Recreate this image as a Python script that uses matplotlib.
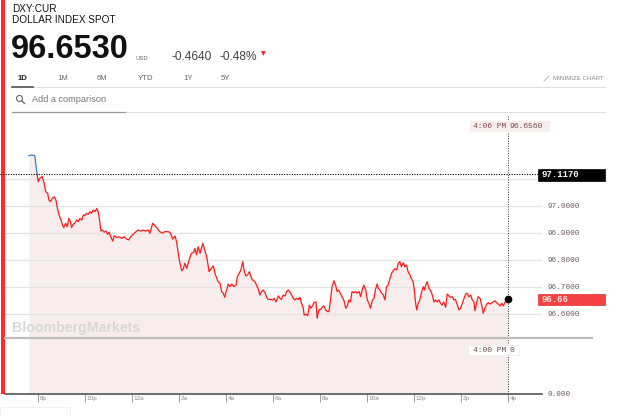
import matplotlib
matplotlib.use('Agg')
import matplotlib.pyplot as plt
import matplotlib.transforms as mtransforms
from matplotlib.lines import Line2D
from matplotlib.patches import Rectangle, Ellipse

# ---- data (minutes after 8 pm, DXY price) ----
pre_minutes = [-23, -16, -8, -5, -2]
pre_prices = [97.186, 97.189, 97.186, 97.152, 97.117]

minutes = [
    -2, 1, 5, 11, 16, 20, 25, 28, 32, 37, 42, 46, 50, 54, 59, 63, 66, 71, 75, 79,
    83, 86, 90, 94, 99, 103, 107, 112, 116, 120, 124, 128, 133, 137, 141, 146, 150, 154, 158, 161,
    165, 169, 174, 178, 182, 186, 191, 195, 201, 208, 214, 220, 226, 232, 237, 243, 249, 256, 263, 269,
    275, 282, 286, 293, 303, 311, 318, 324, 333, 339, 344, 350, 354, 361, 367, 371, 375, 380, 386, 392,
    397, 401, 405, 409, 414, 421, 426, 431, 437, 443, 448, 452, 460, 465, 469, 473, 477, 482, 486, 490,
    495, 500, 506, 509, 514, 518, 523, 527, 531, 535, 540, 544, 548, 554, 558, 562, 567, 571, 575, 580,
    584, 588, 594, 599, 603, 608, 614, 618, 622, 626, 631, 635, 639, 643, 648, 652, 656, 660, 665, 669,
    673, 677, 680, 684, 689, 693, 697, 701, 705, 710, 713, 717, 722, 726, 730, 735, 739, 743, 747, 751,
    756, 760, 764, 768, 773, 777, 781, 786, 790, 794, 798, 802, 807, 811, 815, 820, 824, 828, 832, 837,
    841, 845, 849, 854, 858, 862, 866, 869, 873, 877, 882, 886, 890, 894, 899, 903, 907, 911, 916, 920,
    924, 928, 933, 937, 941, 945, 950, 954, 958, 961, 964, 967, 971, 975, 980, 984, 987, 990, 994, 998,
    1003, 1007, 1011, 1015, 1019, 1024, 1028, 1032, 1036, 1041, 1045, 1049, 1054, 1058, 1062, 1066, 1071, 1075, 1079, 1083,
    1088, 1092, 1096, 1100, 1105, 1109, 1113, 1116, 1120, 1124, 1129, 1133, 1137, 1141, 1146, 1150, 1154, 1158, 1163, 1167,
    1171, 1175, 1180, 1184, 1188, 1192, 1197, 1200,
]
prices = [
    97.117, 97.090, 97.103, 97.109, 97.084, 97.053, 97.047, 97.022, 97.016, 97.029, 97.034, 97.022, 96.991, 96.967, 96.948, 96.930, 96.920, 96.936, 96.923, 96.954,
    96.942, 96.920, 96.932, 96.936, 96.948, 96.942, 96.954, 96.948, 96.967, 96.964, 96.973, 96.969, 96.979, 96.973, 96.985, 96.979, 96.991, 96.979, 96.942, 96.907,
    96.911, 96.903, 96.907, 96.895, 96.903, 96.886, 96.870, 96.890, 96.883, 96.886, 96.880, 96.886, 96.878, 96.874, 96.886, 96.895, 96.903, 96.911, 96.907, 96.911,
    96.907, 96.911, 96.899, 96.936, 96.921, 96.905, 96.899, 96.905, 96.905, 96.899, 96.877, 96.889, 96.868, 96.800, 96.760, 96.766, 96.788, 96.769, 96.800, 96.825,
    96.827, 96.843, 96.819, 96.849, 96.825, 96.862, 96.837, 96.812, 96.757, 96.769, 96.778, 96.751, 96.720, 96.714, 96.683, 96.677, 96.662, 96.691, 96.711, 96.701,
    96.711, 96.701, 96.707, 96.738, 96.751, 96.763, 96.794, 96.757, 96.741, 96.744, 96.757, 96.738, 96.726, 96.720, 96.707, 96.695, 96.670, 96.683, 96.689, 96.679,
    96.662, 96.654, 96.654, 96.652, 96.658, 96.645, 96.667, 96.658, 96.654, 96.670, 96.667, 96.683, 96.689, 96.683, 96.670, 96.658, 96.652, 96.658, 96.654, 96.662,
    96.640, 96.625, 96.596, 96.599, 96.594, 96.633, 96.621, 96.630, 96.642, 96.645, 96.584, 96.615, 96.617, 96.625, 96.630, 96.615, 96.609, 96.609, 96.652, 96.701,
    96.723, 96.707, 96.683, 96.689, 96.674, 96.662, 96.652, 96.621, 96.630, 96.652, 96.645, 96.683, 96.679, 96.683, 96.677, 96.683, 96.664, 96.689, 96.707, 96.689,
    96.652, 96.640, 96.621, 96.652, 96.658, 96.691, 96.711, 96.695, 96.689, 96.679, 96.670, 96.652, 96.701, 96.707, 96.732, 96.751, 96.760, 96.768, 96.763, 96.788,
    96.794, 96.775, 96.790, 96.775, 96.781, 96.757, 96.744, 96.729, 96.720, 96.689, 96.645, 96.615, 96.640, 96.652, 96.683, 96.701, 96.689, 96.707, 96.720, 96.695,
    96.686, 96.670, 96.645, 96.652, 96.645, 96.652, 96.640, 96.633, 96.645, 96.625, 96.674, 96.667, 96.662, 96.664, 96.652, 96.654, 96.633, 96.615, 96.621, 96.637,
    96.658, 96.674, 96.677, 96.664, 96.670, 96.652, 96.645, 96.612, 96.640, 96.664, 96.658, 96.633, 96.603, 96.621, 96.637, 96.642, 96.637, 96.640, 96.645, 96.649,
    96.642, 96.637, 96.630, 96.640, 96.630, 96.642, 96.652, 96.656,
]

y_ticks = [96.6, 96.7, 96.8, 96.9, 97.0, 97.1]
x_ticks = [0, 120, 240, 360, 480, 600, 720, 840, 960, 1080, 1200]
x_labels = ['8p', '10p', '12a', '2a', '4a', '6a', '8a', '10a', '12p', '2p', '4p']
tabs = ['1D', '1M', '6M', 'YTD', '1Y', '5Y']
tab_x = [18, 57, 97, 138, 183, 221]

prev_close = 97.117
last_price = '96.6530'
change = '-0.4640'
change_pct = '-0.48%'
hover_time, hover_val = '4:06 PM', '96.6560'
last_tag = '96.66'

W, H = 640, 416
MONO = 'Liberation Mono'
SANS = 'Liberation Sans'


def fx(x):
    return x / W


def fy(y):
    return 1 - y / H


fig = plt.figure(figsize=(6.4, 4.16), dpi=100)
fig.patch.set_facecolor('white')

# main chart axes (pixel box 5..542 x 115..394)
ax = fig.add_axes([fx(5), fy(394), fx(537), 279 / H])
y_bottom = 96.3037
ax.set_xlim(-84, 1287)
ax.set_ylim(y_bottom, 97.337)

all_m = pre_minutes + minutes[1:]
all_p = pre_prices + prices[1:]
ax.fill_between(all_m, all_p, y_bottom, color='#f7eded', lw=0, zorder=1)
for t in y_ticks:
    ax.axhline(t, color='#e3e3e3', lw=0.9, zorder=1.5)
ax.plot(pre_minutes, pre_prices, color='#3b7fc0', lw=0.9, zorder=3)
ax.plot(minutes, prices, color='#ff1a1a', lw=0.9, zorder=3)
ax.plot(minutes[-1], prices[-1], 'o', color='black', ms=4.5, zorder=5)

ax.axvline(minutes[-1], color='#333333', ls=(0, (1, 1.5)), lw=0.7, zorder=4)

for s in ['left', 'right', 'top']:
    ax.spines[s].set_visible(False)
ax.spines['bottom'].set_color('#555555')
ax.spines['bottom'].set_linewidth(1.2)

ax.yaxis.tick_right()
ax.set_yticks(y_ticks)
# the 97.1 label sits under the previous-close tag
ax.set_yticklabels([f'{t:.4f}' if t < 97.05 else '' for t in y_ticks],
                   family=MONO, fontsize=5.5, color='#6a5858')
ax.tick_params(axis='y', length=0, pad=4.3)

ax.set_xticks(x_ticks)
ax.tick_params(axis='x', length=6, width=0.7, color='#9a9a9a', labelbottom=False)
lab_trans = ax.get_xaxis_transform() + mtransforms.ScaledTranslation(0.02, -0.045, fig.dpi_scale_trans)
for m, lab in zip(x_ticks, x_labels):
    ax.text(m, 0, lab, transform=lab_trans, ha='left', va='center', fontsize=4.6,
            color='#8a8a8a', family=SANS)

fig.text(fx(547), fy(394), '0.000', family=MONO, fontsize=5.5, color='#6a5858', va='center')

# previous close dotted line across the full width
ax_y = ax.transData.transform((0, prev_close))[1] / fig.dpi / 4.16
fig.add_artist(Line2D([fx(0), fx(538)], [ax_y, ax_y], color='black', ls=(0, (1, 1.3)), lw=0.8))

# separator between price and volume panes
fig.add_artist(Line2D([fx(5), fx(592)], [fy(338), fy(338)], color='#bdbdbd', lw=1.6))
fig.text(fx(12), fy(328), 'BloombergMarkets', family=SANS, weight='bold', fontsize=10.2,
         color='#d8d8d8', va='center')

# price tags on the right
fig.add_artist(Rectangle((fx(538), fy(181)), fx(67), 12 / H, fc='black', ec='black', lw=0.5))
fig.text(fx(541), fy(175), f'{prev_close:.4f}', family=MONO, weight='bold', fontsize=6.5,
         color='white', va='center')
fig.add_artist(Rectangle((fx(538), fy(305)), fx(67), 11 / H, fc='#f44242', ec='#e23030', lw=0.5))
fig.text(fx(541), fy(299.5), last_tag, family=MONO, weight='bold', fontsize=6.5,
         color='#ffe8e8', va='center')

# hover labels
fig.add_artist(Rectangle((fx(470), fy(132)), fx(80), 11 / H, fc='#f8eeee', ec='none'))
fig.text(fx(506), fy(126.5), hover_time, family=MONO, fontsize=5.8, color='#7a4a4a',
         ha='right', va='center')
fig.text(fx(510), fy(126.5), hover_val, family=MONO, fontsize=5.8, color='#7a4a4a', va='center')
fig.add_artist(Rectangle((fx(468), fy(355)), fx(51), 10 / H, fc='white', ec='#eeeeee', lw=0.6))
fig.text(fx(506), fy(350), '4:00 PM', family=MONO, fontsize=5.8, color='#6a4a4a',
         ha='right', va='center')
fig.text(fx(510), fy(350), '0', family=MONO, fontsize=5.8, color='#6a4a4a', va='center')

# left accent bar
fig.add_artist(Rectangle((fx(1), fy(394)), fx(4), 394 / H, fc='#ff2b2b', ec='none'))

# header
fig.text(fx(12), fy(9), 'DXY:CUR', family=SANS, fontsize=7.2, color='#111111', va='center')
fig.text(fx(12), fy(20), 'DOLLAR INDEX SPOT', family=SANS, fontsize=7.2, color='#111111', va='center')
fig.text(fx(11), fy(50), last_price, family=SANS, weight='bold', fontsize=23.5, color='#111111',
         va='center')
fig.text(fx(135), fy(58), 'USD', family=SANS, fontsize=4.2, color='#666666', va='center')
fig.text(fx(172), fy(56.5), change, family=SANS, fontsize=8.6, color='#444444', va='center')
fig.text(fx(219), fy(56.5), change_pct, family=SANS, fontsize=8.6, color='#444444', va='center')
fig.text(fx(261), fy(54), '▼', family='DejaVu Sans', fontsize=4.5, color='#e8202a', va='center')

for lab, x in zip(tabs, tab_x):
    fig.text(fx(x), fy(78), lab, family=SANS, fontsize=5.6,
             color='#222222' if lab == '1D' else '#666666', va='center',
             weight='bold' if lab == '1D' else 'normal')
fig.add_artist(Line2D([fx(12), fx(605)], [fy(86.5), fy(86.5)], color='#dddddd', lw=0.8))
fig.add_artist(Line2D([fx(12), fx(33)], [fy(86.5), fy(86.5)], color='#555555', lw=1.2))
fig.text(fx(553), fy(78), 'MINIMIZE CHART', family=SANS, fontsize=4.4, color='#888888', va='center')
fig.add_artist(Line2D([fx(544), fx(549)], [fy(81), fy(76)], color='#aaaaaa', lw=0.6))

fig.add_artist(Ellipse((fx(19.5), fy(98.5)), fx(6), 6 / H, fc='none', ec='#666666', lw=0.8))
fig.add_artist(Line2D([fx(21.8), fx(24.5)], [fy(100.8), fy(103.5)], color='#666666', lw=0.9))
fig.text(fx(32), fy(100), 'Add a comparison', family=SANS, fontsize=6.6, color='#777777', va='center')
fig.add_artist(Line2D([fx(12), fx(605)], [fy(111.5), fy(111.5)], color='#dddddd', lw=0.8))
fig.add_artist(Line2D([fx(12), fx(125)], [fy(111.5), fy(111.5)], color='#999999', lw=0.9))

fig.add_artist(Rectangle((fx(0), fy(418)), fx(70), 11 / H, fc='none', ec='#eeeeee', lw=0.6))

fig.savefig('out.png', dpi=100)
